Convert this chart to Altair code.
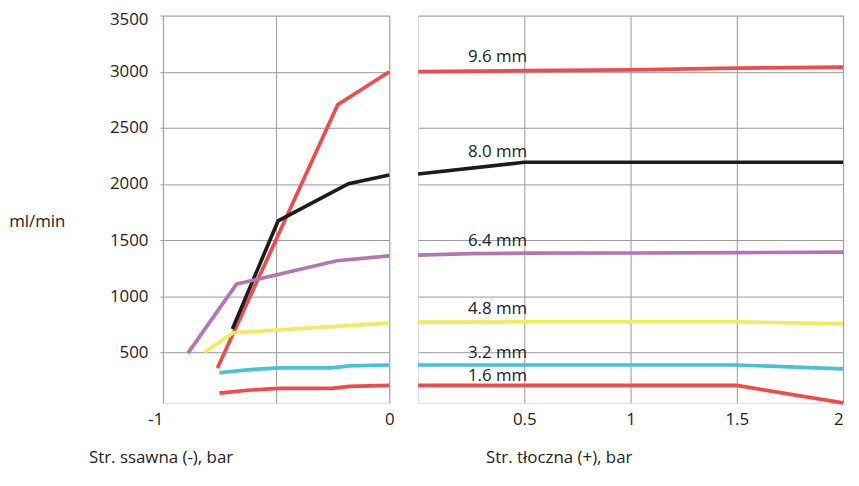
import altair as alt
import pandas as pd

# ---- data ----
series_names = ["9.6 mm", "8.0 mm", "6.4 mm", "4.8 mm", "3.2 mm", "1.6 mm"]
series_colors = ["#ee4b4e", "#1c1c1c", "#b475b3", "#f3ea5c", "#46c2d4", "#ef4a4c"]

# suction side (negative pressure, bar)
left_x = {
    "9.6 mm": [-0.759, -0.228, 0.0],
    "8.0 mm": [-0.693, -0.491, -0.180, 0.0],
    "6.4 mm": [-0.890, -0.675, -0.487, -0.232, 0.0],
    "4.8 mm": [-0.816, -0.689, -0.487, 0.0],
    "3.2 mm": [-0.750, -0.627, -0.487, -0.254, -0.175, 0.0],
    "1.6 mm": [-0.750, -0.627, -0.487, -0.254, -0.175, 0.0],
}
left_y = {
    "9.6 mm": [361, 2705, 3000],
    "8.0 mm": [708, 1672, 2002, 2080],
    "6.4 mm": [491, 1108, 1195, 1316, 1359],
    "4.8 mm": [500, 674, 700, 760],
    "3.2 mm": [318, 344, 361, 361, 379, 387],
    "1.6 mm": [136, 162, 179, 179, 196, 205],
}

# delivery side (positive pressure, bar)
right_x = {
    "9.6 mm": [0.0, 0.5, 1.0, 1.5, 2.0],
    "8.0 mm": [0.0, 0.5, 1.0, 1.5, 2.0],
    "6.4 mm": [0.0, 0.25, 0.5, 1.0, 1.5, 2.0],
    "4.8 mm": [0.0, 0.5, 1.0, 1.5, 2.0],
    "3.2 mm": [0.0, 0.5, 1.0, 1.5, 2.0],
    "1.6 mm": [0.0, 0.5, 1.0, 1.5, 2.0],
}
right_y = {
    "9.6 mm": [3000, 3009, 3017, 3032, 3041],
    "8.0 mm": [2089, 2193, 2193, 2193, 2193],
    "6.4 mm": [1366, 1380, 1383, 1385, 1388, 1393],
    "4.8 mm": [769, 772, 772, 772, 754],
    "3.2 mm": [387, 387, 387, 387, 353],
    "1.6 mm": [205, 205, 205, 205, 50],
}

label_x = [0.374, 0.374, 0.374, 0.374, 0.374, 0.374]
label_y = [3130, 2288, 1490, 882, 491, 292]

y_ticks = [500, 1000, 1500, 2000, 2500, 3000, 3500]
left_ticks = [-1, -0.5, 0]
right_ticks = [0.5, 1, 1.5, 2]

# ---- tables ----
def long_table(xs, ys):
    rows = []
    for s in series_names:
        for i, (xv, yv) in enumerate(zip(xs[s], ys[s])):
            rows.append({"series": s, "x": xv, "y": yv, "order": i})
    return pd.DataFrame(rows)

left_df = long_table(left_x, left_y)
right_df = long_table(right_x, right_y)
label_df = pd.DataFrame({"series": series_names, "x": label_x, "y": label_y})

GRID = "#999999"
TXT = "#222222"
FONT = "Open Sans"
FS = 17
W_L, W_R, H = 228, 428, 390

color = alt.Color("series:N", scale=alt.Scale(domain=series_names, range=series_colors), legend=None)
y_scale = alt.Scale(domain=[50, 3500], nice=False, zero=False)

left = alt.Chart(left_df).mark_line(strokeWidth=3.7).encode(
    x=alt.X("x:Q", scale=alt.Scale(domain=[-1, 0], nice=False),
            axis=alt.Axis(values=left_ticks,
                          labelExpr="datum.value == -1 ? '-1' : (datum.value == 0 ? '0' : '')",
                          labelAlign={"condition": {"test": "datum.value == -1", "value": "right"},
                                      "value": "center"},
                          grid=True, gridColor=GRID, ticks=False, domain=False,
                          labelPadding=9, labelFontSize=FS, labelColor=TXT,
                          title="Str. ssawna (-), bar", titleX=-75, titleY=55,
                          titleAlign="left", titleBaseline="middle", titleAnchor="start",
                          titleFontSize=FS, titleFontWeight="normal", titleColor=TXT)),
    y=alt.Y("y:Q", scale=y_scale,
            axis=alt.Axis(values=y_ticks, format="d", grid=True, gridColor=GRID, ticks=True,
                          tickSize=3, tickColor=GRID, domain=False, labelPadding=12,
                          labelOffset={"condition": {"test": "datum.value == 3500", "value": 4},
                                       "value": 0},
                          labelFontSize=FS, labelColor=TXT, title="ml/min", titleAngle=0,
                          titleX=-127, titleY=207, titleAlign="center",
                          titleBaseline="middle", titleFontSize=FS,
                          titleFontWeight="normal", titleColor=TXT)),
    color=color,
    order="order:Q",
).properties(width=W_L, height=H)

right_lines = alt.Chart(right_df).mark_line(strokeWidth=3.7).encode(
    x=alt.X("x:Q", scale=alt.Scale(domain=[0, 2], nice=False),
            axis=alt.Axis(values=right_ticks, labelExpr="format(datum.value, '~g')",
                          labelFlush=True,
                          grid=True, gridColor=GRID, ticks=False, domain=False,
                          labelPadding=9, labelFontSize=FS, labelColor=TXT,
                          title="Str. tłoczna (+), bar", titleX=68, titleY=55,
                          titleAlign="left", titleBaseline="middle", titleAnchor="start",
                          titleFontSize=FS, titleFontWeight="normal", titleColor=TXT)),
    y=alt.Y("y:Q", scale=y_scale,
            axis=alt.Axis(values=y_ticks, grid=True, gridColor=GRID, ticks=False, labels=False,
                          domain=False, title=None, minExtent=0)),
    color=color,
    order="order:Q",
)

right_text = alt.Chart(label_df).mark_text(fontSize=FS, color=TXT, font=FONT,
                                           align="center", baseline="middle").encode(
    x="x:Q", y="y:Q", text="series:N")

right = alt.layer(right_lines, right_text).properties(width=W_R, height=H)

chart = alt.hconcat(left, right, spacing=29, bounds="flush").configure_view(
    stroke=GRID, strokeWidth=1
).configure(font=FONT).properties(padding=0)

chart.save("out.html", embed_options={"renderer": "svg", "actions": False})
